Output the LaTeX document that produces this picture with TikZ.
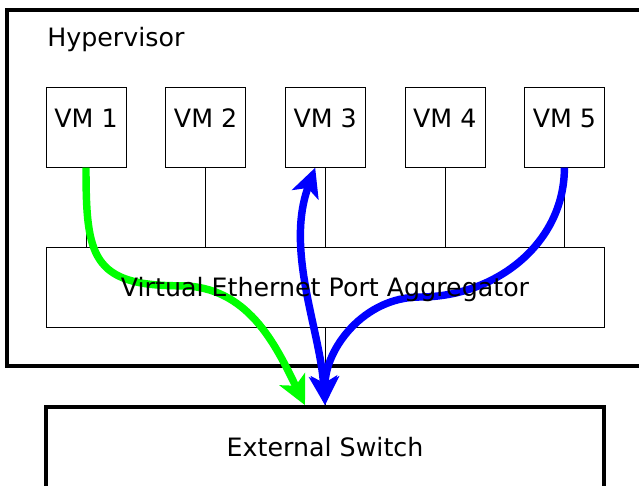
\documentclass[tikz,border=0pt]{standalone}
\usepackage{fontspec}
\setmainfont{DejaVu Sans}
\usetikzlibrary{arrows.meta}
\definecolor{vmgreen}{RGB}{0,255,0}
\begin{document}
\begin{tikzpicture}[
        font=\fontsize{18}{21}\selectfont,
        box/.style={draw,thin,minimum width=2cm,minimum height=2cm,inner sep=0pt},
        wide/.style={box,minimum width=13.95cm},
        tip/.tip={Stealth[length=0.72cm,width=0.7cm,inset=0.18cm]},
        flow/.style={line width=5.3pt,-tip}]
    \useasboundingbox (0,0) rectangle (15.975,12.125);
    \draw[line width=2.6pt] (16.5,11.875) -- (0.175,11.875) -- (0.175,2.975) -- (16.5,2.975);
    \node[anchor=west,inner sep=0pt] (hyp) at (1.175,11.125) {Hypervisor};
    \foreach \i in {1,...,5}
        \node[box,text height=0.45cm,text depth=0.45cm] (vm\i) at ({2.15+2.99*(\i-1)},8.94) {VM \i};
    \node[wide] (vepa) at (8.125,4.95) {};
    \node[wide,minimum height=2.4cm,line width=2.6pt] (sw) at (8.125,0.75) {};
    \foreach \i in {1,...,5}
        \draw (vm\i.south) -- (vm\i.south |- vepa.north);
    \draw (vepa.south) -- (sw.north);
    % traffic paths
    \coordinate (gbend) at (4.5,4.98);
    \coordinate (bbend) at (10.5,4.7);
    \draw[flow,vmgreen] (vm1.south) to[out=-90,in=180,looseness=1.5] (gbend)
        to[out=0,in=116] ([xshift=-0.5cm]sw.north);
    \draw[flow,blue] (vm5.south) to[out=-90,in=0] (bbend) to[out=180,in=90] (sw.north);
    \draw[flow,blue,tip-tip] ([xshift=-0.25cm]vm3.south) .. controls (7.125,5.875) and (8.0,3.875) .. (sw.north);
    \node (vepatext) at ([yshift=-0.07cm]vepa.center) {Virtual Ethernet Port Aggregator};
    \node (swtext) at (8.125,0.95) {External Switch};
\end{tikzpicture}
\end{document}
